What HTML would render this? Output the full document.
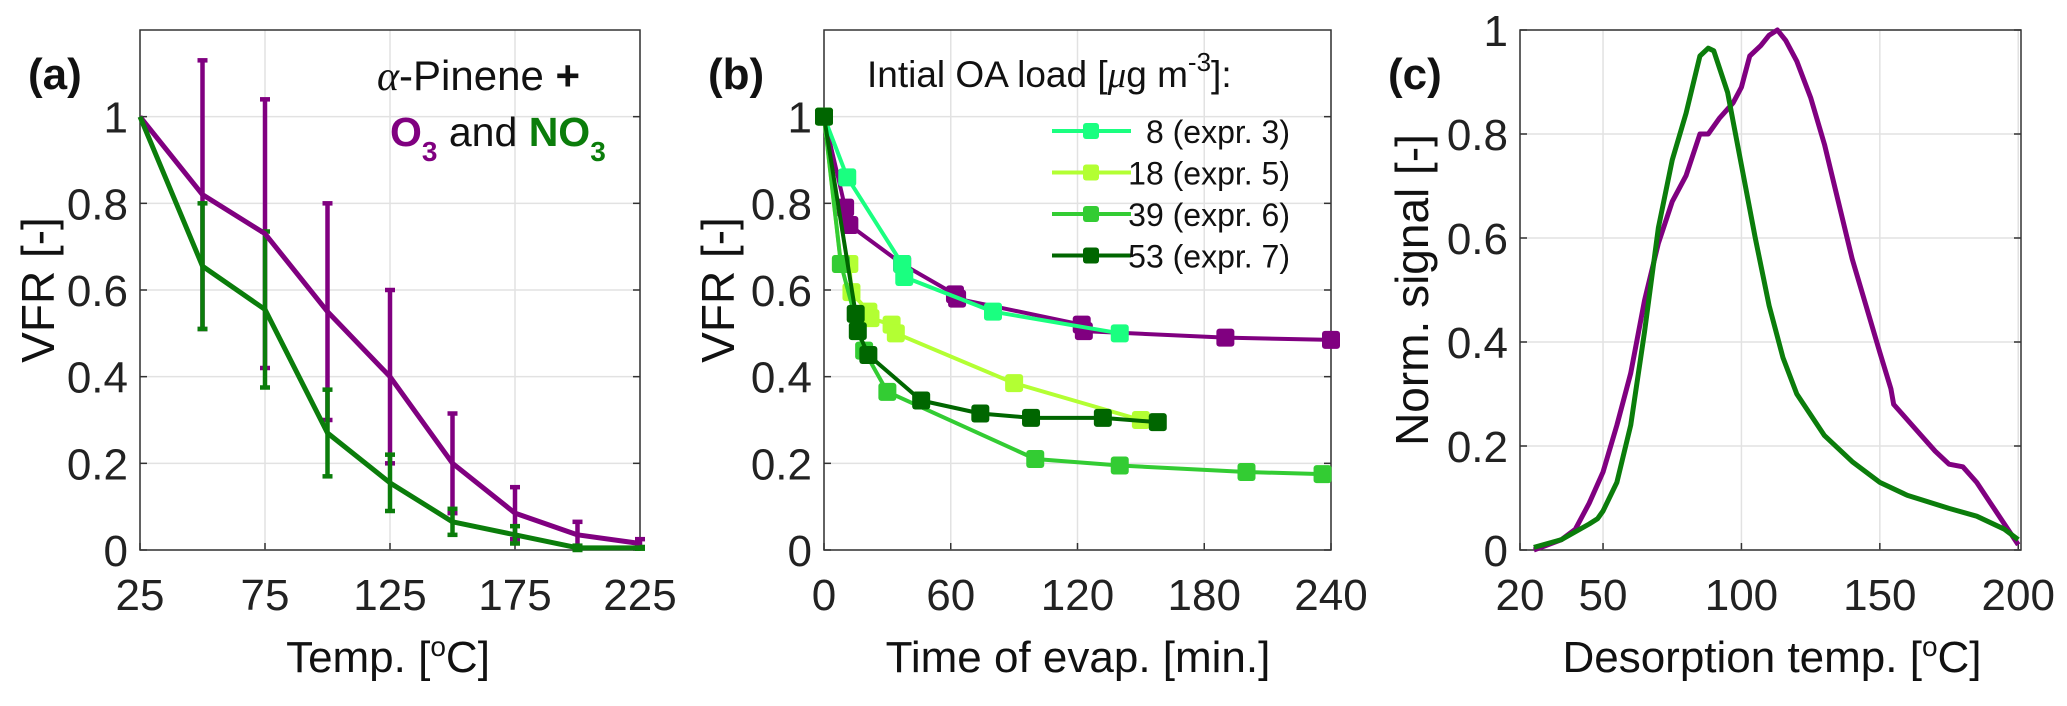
<!DOCTYPE html>
<html><head><meta charset="utf-8"><style>
html,body{margin:0;padding:0;background:#fff}
svg{display:block;font-family:"Liberation Sans",Arial,sans-serif}
</style></head><body>
<svg id="fig" width="2067" height="706" viewBox="0 0 2067 706"></svg>
<script>
// Panel (a)
const aTemps=[25,50,75,100,125,150,175,200,225];
const aO3=[1,0.82,0.73,0.55,0.40,0.20,0.085,0.035,0.015];
const aO3Err=[0,0.31,0.31,0.25,0.20,0.115,0.06,0.03,0.01];
const aNO3=[1,0.655,0.555,0.27,0.155,0.065,0.035,0.005,0.005];
const aNO3Err=[0,0.145,0.18,0.10,0.065,0.03,0.02,0.005,0.002];
const aXTicks=[25,75,125,175,225];
const yTicks=[0,0.2,0.4,0.6,0.8,1];
// Panel (b)
const bO3T=[0,10,12,37,62,63,122,123,190,240];
const bO3V=[1,0.79,0.75,0.66,0.59,0.58,0.52,0.505,0.49,0.485];
const bE3T=[0,11,37,38,80,140];
const bE3V=[1,0.86,0.66,0.63,0.55,0.50];
const bE5T=[0,8,12,13,21,22,32,34,90,150];
const bE5V=[1,0.66,0.66,0.595,0.55,0.535,0.52,0.50,0.385,0.30];
const bE6T=[0,8,19,30,100,140,200,236];
const bE6V=[1,0.66,0.46,0.365,0.21,0.195,0.18,0.175];
const bE7T=[0,15,16,21,46,74,98,132,158];
const bE7V=[1,0.545,0.505,0.45,0.345,0.315,0.305,0.305,0.295];
const bXTicks=[0,60,120,180,240];
const bLegend=["8 (expr. 3)","18 (expr. 5)","39 (expr. 6)","53 (expr. 7)"];
// Panel (c)
const cGT=[25,35,45,48,50,55,60,65,70,75,80,85,88,90,95,100,105,110,115,120,130,140,150,160,175,185,195,200];
const cGV=[0.005,0.02,0.05,0.06,0.075,0.13,0.24,0.42,0.62,0.75,0.84,0.95,0.965,0.96,0.88,0.74,0.6,0.47,0.37,0.3,0.22,0.17,0.13,0.105,0.08,0.065,0.04,0.02];
const cPT=[25,35,40,45,50,55,60,65,70,75,80,85,88,92,97,100,103,107,110,113,116,120,125,130,135,140,145,150,154,155,160,165,170,175,180,185,190,195,200];
const cPV=[0,0.02,0.04,0.09,0.15,0.24,0.34,0.48,0.59,0.67,0.72,0.8,0.8,0.83,0.86,0.89,0.95,0.97,0.99,1,0.98,0.94,0.87,0.78,0.67,0.56,0.47,0.38,0.31,0.28,0.25,0.22,0.19,0.165,0.16,0.13,0.09,0.05,0.01];
const cXTicks=[20,50,100,150,200];
const cYTicks=[0,0.2,0.4,0.6,0.8,1];

const NS="http://www.w3.org/2000/svg";
const svg=document.getElementById('fig');
function el(tag,attrs,parent){const e=document.createElementNS(NS,tag);for(const k in attrs)e.setAttribute(k,attrs[k]);(parent||svg).appendChild(e);return e;}
const PURPLE="#800080",GREEN="#0b7d0b";

function axes(o){
  const g=el('g',{});
  
  
  const sx=v=>o.x0+(v-o.xmin)/(o.xmax-o.xmin)*(o.x1-o.x0);
  const sy=v=>o.y1-(v-o.ymin)/(o.ymax-o.ymin)*(o.y1-o.y0);
  o.xt.forEach(t=>{
    const l=el('line',{x1:sx(t),x2:sx(t),y1:o.y0,y2:o.y1,stroke:'#e2e2e2','stroke-width':1.5},g);
    
    const tx=el('text',{x:sx(t),y:o.y1+60,'text-anchor':'middle','font-size':44,fill:'#222'},g);
    
    tx.textContent=t;
    el('line',{x1:sx(t),x2:sx(t),y1:o.y1,y2:o.y1-7,stroke:'#333','stroke-width':1.5},g);
  });
  o.yt.forEach(t=>{
    const l=el('line',{x1:o.x0,x2:o.x1,y1:sy(t),y2:sy(t),stroke:'#e2e2e2','stroke-width':1.5},g);
    
    const tx=el('text',{x:o.x0-12,y:sy(t)+16,'text-anchor':'end','font-size':44,fill:'#222'},g);
    
    tx.textContent=t;
    el('line',{x1:o.x0,x2:o.x0+7,y1:sy(t),y2:sy(t),stroke:'#333','stroke-width':1.5},g);
    el('line',{x1:o.x1,x2:o.x1-7,y1:sy(t),y2:sy(t),stroke:'#333','stroke-width':1.5},g);
  });
  const b=el('rect',{x:o.x0,y:o.y0,width:o.x1-o.x0,height:o.y1-o.y0,fill:'none',stroke:'#333','stroke-width':1.5},g);
  
  return {sx,sy,g};
}
function line(ax,xs,ys,color,name,w){
  const p=el('polyline',{points:xs.map((x,i)=>ax.sx(x)+','+ax.sy(ys[i])).join(' '),fill:'none',stroke:color,'stroke-width':w||5,'stroke-linejoin':'round'});
  
}
function markers(ax,xs,ys,color,name){
  xs.forEach((x,i)=>{
    const r=el('rect',{x:ax.sx(x)-9,y:ax.sy(ys[i])-9,width:18,height:18,rx:3,fill:color});
    
  });
}
function errs(ax,xs,ys,es,color,name){
  xs.forEach((x,i)=>{
    if(!es[i])return;
    const X=ax.sx(x),t=ax.sy(ys[i]+es[i]),b=ax.sy(ys[i]-es[i]);
    const g=el('g',{stroke:color,'stroke-width':4.5});
    
    el('line',{x1:X,x2:X,y1:t,y2:b},g);
    el('line',{x1:X-5,x2:X+5,y1:t,y2:t},g);
    el('line',{x1:X-5,x2:X+5,y1:b,y2:b},g);
  });
}
function text(x,y,s,size,opts){
  const t=el('text',Object.assign({x:x,y:y,'font-size':size,fill:'#111'},opts||{}));
  t.innerHTML=s;return t;
}

// ---- Panel a
const A=axes({name:'panel-a',x0:140,x1:640,y0:30,y1:550,xmin:25,xmax:225,ymin:0,ymax:1.2,xt:aXTicks,yt:yTicks});
errs(A,aTemps,aO3,aO3Err,PURPLE,'o3-errorbar');
errs(A,aTemps,aNO3,aNO3Err,GREEN,'no3-errorbar');
line(A,aTemps,aO3,PURPLE,'o3-line');
line(A,aTemps,aNO3,GREEN,'no3-line');
let t=text(28,89,'(a)',44,{'font-weight':'bold'});
t=text(377,90,'<tspan font-family="Liberation Serif" font-style="italic">α</tspan>-Pinene <tspan font-weight="bold">+</tspan>',42);
t=text(390,146,'<tspan fill="'+PURPLE+'" font-weight="bold">O<tspan font-size="28" dy="15">3</tspan></tspan><tspan dy="-15"> and </tspan><tspan fill="'+GREEN+'" font-weight="bold">NO<tspan font-size="28" dy="15">3</tspan></tspan>',41);
t=text(388,672,'Temp. [<tspan font-size="28" dy="-16">o</tspan><tspan dy="16">C]</tspan>',44,{'text-anchor':'middle'});
t=text(0,0,'VFR [-]',46,{'text-anchor':'middle',transform:'translate(54,290) rotate(-90)'});

// ---- Panel b
const B=axes({name:'panel-b',x0:824,x1:1331,y0:30,y1:550,xmin:0,xmax:240,ymin:0,ymax:1.2,xt:bXTicks,yt:yTicks});
const series=[[bO3T,bO3V,PURPLE,'o3-series'],[bE3T,bE3V,'#1aff80','expr3-series'],[bE5T,bE5V,'#b3ff33','expr5-series'],[bE6T,bE6V,'#33cc33','expr6-series'],[bE7T,bE7V,'#006600','expr7-series']];
series.forEach(s=>{line(B,s[0],s[1],s[2],s[3]+'-line',4);markers(B,s[0],s[1],s[2],s[3]+'-marker');});
t=text(708,89,'(b)',44,{'font-weight':'bold'});
t=text(867,87,'Intial OA load [<tspan font-family="Liberation Serif" font-style="italic">μ</tspan>g m<tspan font-size="26" dy="-16">-3</tspan><tspan dy="16">]:</tspan>',37);
bLegend.forEach((lab,i)=>{
  const y=131+i*41.5;const c=series[i+1][2];
  const g=el('g',{});
  
  el('line',{x1:1052,x2:1131,y1:y,y2:y,stroke:c,'stroke-width':4},g);
  el('rect',{x:1083,y:y-8,width:16,height:16,rx:3,fill:c},g);
  const tx=el('text',{x:1290,y:y+12,'text-anchor':'end','font-size':32,fill:'#111'},g);
  tx.textContent=lab;
});
t=text(1078,672,'Time of evap. [min.]',44,{'text-anchor':'middle'});
t=text(0,0,'VFR [-]',46,{'text-anchor':'middle',transform:'translate(734,290) rotate(-90)'});

// ---- Panel c
const C=axes({name:'panel-c',x0:1520,x1:2021,y0:30,y1:550,xmin:20,xmax:201,ymin:0,ymax:1,xt:cXTicks,yt:cYTicks});
line(C,cPT,cPV,PURPLE,'o3-thermogram');
line(C,cGT,cGV,GREEN,'no3-thermogram');
t=text(1388,89,'(c)',44,{'font-weight':'bold'});
t=text(1772,672,'Desorption temp. [<tspan font-size="28" dy="-16">o</tspan><tspan dy="16">C]</tspan>',44,{'text-anchor':'middle'});
t=text(0,0,'Norm. signal [-]',46,{'text-anchor':'middle',transform:'translate(1428,290) rotate(-90)'});
</script>
</body></html>
